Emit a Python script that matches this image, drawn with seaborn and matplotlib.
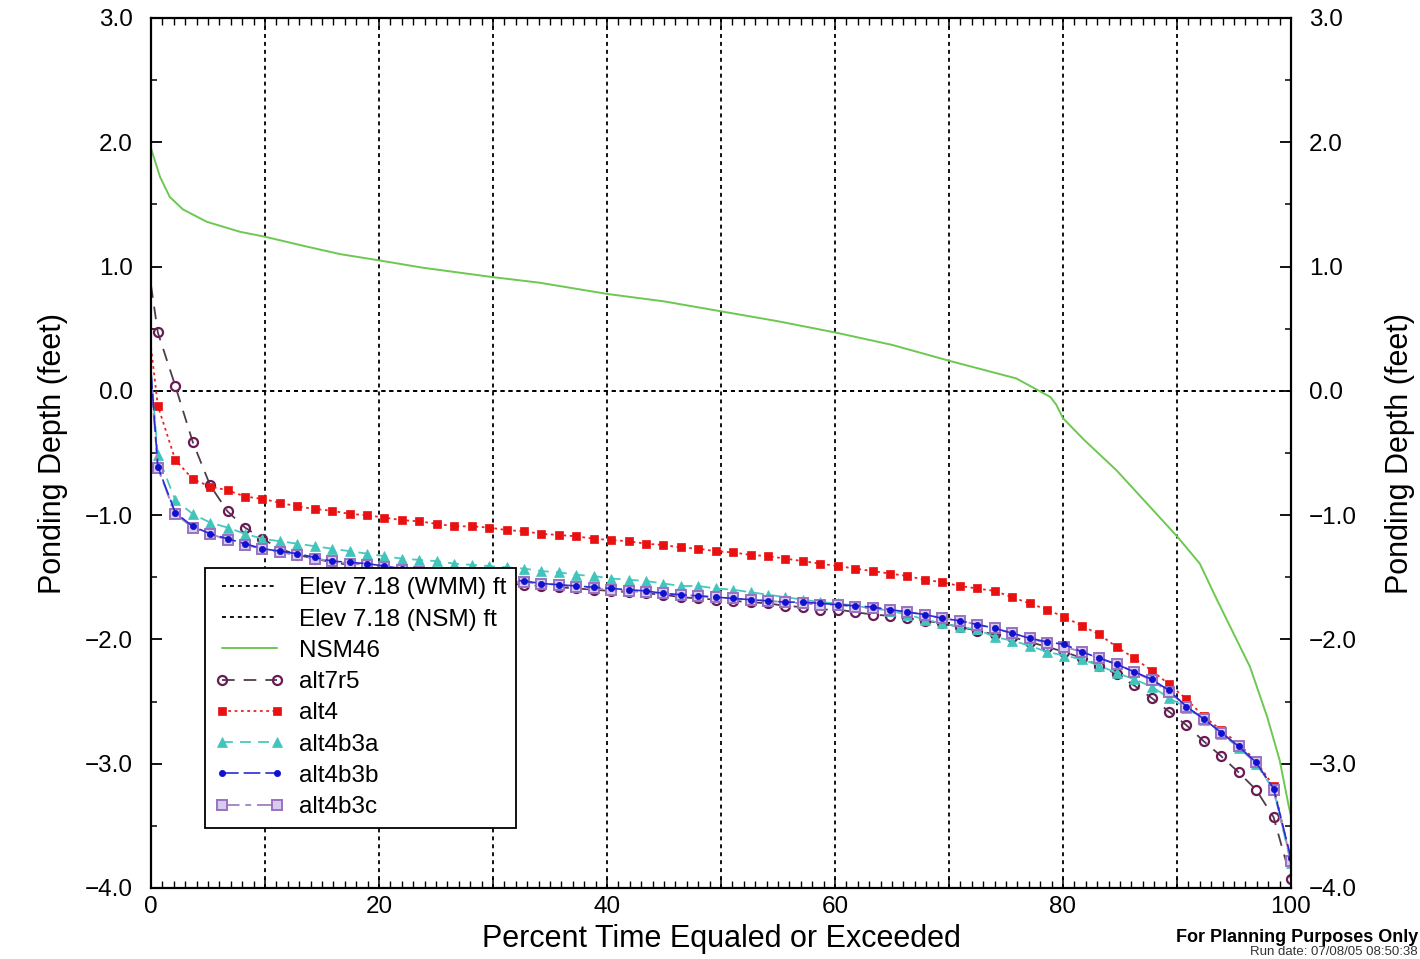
import numpy as np
import pandas as pd
import matplotlib
matplotlib.use("Agg")
import matplotlib.pyplot as plt
import seaborn as sns
from matplotlib.ticker import MultipleLocator, FuncFormatter
from matplotlib.lines import Line2D

# Percent-exceedance positions of the simulated stage samples (first entry is the 0 % end)
pct = np.concatenate([[0.0], np.linspace(0.6, 100.0, 66)])

alt7r5 = [0.85,
          0.47, 0.04, -0.41, -0.76, -0.97, -1.10, -1.19, -1.27, -1.32, -1.35,
          -1.38, -1.40, -1.42, -1.44, -1.46, -1.48, -1.50, -1.51, -1.53, -1.54,
          -1.55, -1.56, -1.57, -1.58, -1.59, -1.60, -1.61, -1.62, -1.63, -1.64,
          -1.66, -1.67, -1.68, -1.69, -1.70, -1.71, -1.73, -1.74, -1.76, -1.76,
          -1.78, -1.80, -1.81, -1.83, -1.85, -1.87, -1.90, -1.93, -1.96, -1.98,
          -2.02, -2.06, -2.10, -2.15, -2.21, -2.28, -2.37, -2.47, -2.58, -2.69,
          -2.82, -2.94, -3.07, -3.21, -3.43, -3.93]

alt4 = [0.35,
        -0.12, -0.555, -0.71, -0.77, -0.80, -0.85, -0.87, -0.90, -0.93, -0.95,
        -0.965, -0.99, -1.00, -1.02, -1.04, -1.05, -1.07, -1.09, -1.09, -1.10,
        -1.12, -1.13, -1.15, -1.16, -1.17, -1.19, -1.20, -1.21, -1.23, -1.24,
        -1.26, -1.27, -1.29, -1.30, -1.32, -1.33, -1.35, -1.37, -1.39, -1.41,
        -1.43, -1.45, -1.47, -1.49, -1.52, -1.54, -1.57, -1.59, -1.61, -1.66,
        -1.71, -1.76, -1.82, -1.89, -1.96, -2.06, -2.15, -2.25, -2.36, -2.48,
        -2.62, -2.73, -2.84, -2.98, -3.18, -3.78]

alt4b3a = [0.15,
           -0.52, -0.88, -0.99, -1.06, -1.10, -1.15, -1.19, -1.21, -1.23, -1.25,
           -1.27, -1.29, -1.31, -1.33, -1.35, -1.36, -1.37, -1.39, -1.40, -1.41,
           -1.42, -1.43, -1.45, -1.46, -1.48, -1.49, -1.51, -1.52, -1.53, -1.55,
           -1.57, -1.57, -1.59, -1.60, -1.62, -1.64, -1.66, -1.68, -1.70, -1.71,
           -1.73, -1.75, -1.77, -1.80, -1.84, -1.87, -1.90, -1.92, -1.98, -2.01,
           -2.05, -2.10, -2.13, -2.16, -2.21, -2.27, -2.32, -2.38, -2.47, -2.55,
           -2.65, -2.76, -2.87, -3.00, -3.21, -3.80]

alt4b3b = [0.15,
           -0.61, -0.98, -1.09, -1.15, -1.19, -1.23, -1.27, -1.29, -1.31, -1.34,
           -1.37, -1.38, -1.39, -1.41, -1.43, -1.45, -1.47, -1.48, -1.50, -1.51,
           -1.52, -1.53, -1.55, -1.56, -1.57, -1.58, -1.59, -1.60, -1.61, -1.63,
           -1.64, -1.65, -1.66, -1.67, -1.68, -1.69, -1.70, -1.70, -1.71, -1.72,
           -1.73, -1.74, -1.76, -1.78, -1.80, -1.83, -1.85, -1.88, -1.91, -1.95,
           -1.99, -2.02, -2.04, -2.10, -2.15, -2.20, -2.26, -2.32, -2.41, -2.54,
           -2.64, -2.75, -2.86, -2.99, -3.20, -3.76]

alt4b3c = [0.10,
           -0.62, -0.99, -1.10, -1.15, -1.20, -1.24, -1.27, -1.30, -1.32, -1.35,
           -1.37, -1.39, -1.40, -1.42, -1.44, -1.46, -1.47, -1.49, -1.50, -1.52,
           -1.53, -1.54, -1.55, -1.56, -1.58, -1.59, -1.60, -1.61, -1.62, -1.63,
           -1.64, -1.65, -1.66, -1.67, -1.68, -1.69, -1.70, -1.71, -1.72, -1.72,
           -1.74, -1.75, -1.76, -1.78, -1.80, -1.83, -1.85, -1.88, -1.91, -1.95,
           -1.99, -2.03, -2.06, -2.10, -2.15, -2.20, -2.26, -2.33, -2.42, -2.54,
           -2.64, -2.75, -2.86, -2.99, -3.21, -3.78]

# NSM46 stage-duration curve
nsm_pct = [0, 0.8, 1.65, 2.8, 4.9, 7.8, 10, 13.7, 16.6, 20, 23.9, 30, 34.1, 40,
           45, 50, 55, 60, 65, 70.1, 73, 75.9, 77.7, 78.9, 79.4, 80, 81.8, 84.7,
           87.6, 90, 92, 93.5, 96.4, 97.9, 99, 99.8, 100]
nsm46 = [1.95, 1.72, 1.56, 1.46, 1.36, 1.28, 1.24, 1.16, 1.10, 1.05, 0.99, 0.915,
         0.87, 0.78, 0.72, 0.64, 0.56, 0.47, 0.37, 0.24, 0.17, 0.10, 0.01, -0.05,
         -0.11, -0.22, -0.39, -0.64, -0.93, -1.17, -1.39, -1.68, -2.22, -2.62,
         -2.97, -3.34, -3.42]

# Ground elevation 7.18 ft reference (zero ponding depth) for both models
elev_pct = [0, 100]
elev_wmm = [0.0, 0.0]
elev_nsm = [0.0, 0.0]

x_ticks = [0, 20, 40, 60, 80, 100]

sns.set_style("white")
plt.rcParams["font.family"] = ["Liberation Sans", "DejaVu Sans"]
plt.rcParams["text.color"] = "black"
plt.rcParams["axes.labelcolor"] = "black"
plt.rcParams["xtick.color"] = "black"
plt.rcParams["ytick.color"] = "black"

fig = plt.figure(figsize=(14.2, 9.59), dpi=100)
ax = fig.add_axes([151 / 1420, 71 / 959, 1140 / 1420, 870 / 959])

dotted = (0, (2.2, 2.2))

styles = {
    "alt7r5": dict(color="#4f3b4c", ls=(0, (7, 5)), lw=1.3, marker="o", ms=6.5,
                   mfc="none", mec="#6a1b55", mew=1.6),
    "alt4": dict(color="#f02020", ls=(0, (1.5, 2.0)), lw=1.3, marker="s", ms=6,
                 mfc="#e81010", mec="#e81010", mew=0.5),
    "alt4b3a": dict(color="#48c8c0", ls=(0, (6, 4)), lw=1.3, marker="^", ms=7.5,
                    mfc="#40c4bc", mec="#40c4bc", mew=0.5),
    "alt4b3c": dict(color="#a58ac0", ls=(0, (9, 3, 3, 3)), lw=1.4, marker="s", ms=7,
                    mfc="#d8ccee", mec="#9a72c0", mew=1.4),
    "alt4b3b": dict(color="#2a2ad8", ls=(0, (10, 3)), lw=1.2, marker="o", ms=4.5,
                    mfc="#1010d0", mec="#1010d0", mew=0.5),
}
series = {"alt7r5": alt7r5, "alt4": alt4, "alt4b3a": alt4b3a,
          "alt4b3c": alt4b3c, "alt4b3b": alt4b3b}

# zero-depth reference lines
sns.lineplot(x=elev_pct, y=elev_wmm, ax=ax, color="black", lw=1.3, ls=dotted,
             estimator=None, sort=False)
sns.lineplot(x=elev_pct, y=elev_nsm, ax=ax, color="black", lw=1.3, ls=dotted,
             estimator=None, sort=False)

sns.lineplot(x=nsm_pct, y=nsm46, ax=ax, color="#6cc850", lw=1.4,
             estimator=None, sort=False)

marker_idx = list(range(1, len(pct)))
for name in ["alt7r5", "alt4", "alt4b3a", "alt4b3c", "alt4b3b"]:
    st = styles[name]
    sns.lineplot(x=pct, y=series[name], ax=ax, estimator=None, sort=False,
                 color=st["color"], linestyle=st["ls"], linewidth=st["lw"],
                 marker=st["marker"], markersize=st["ms"],
                 markerfacecolor=st["mfc"], markeredgecolor=st["mec"],
                 markeredgewidth=st["mew"], markevery=marker_idx)

ax.set_xlim(0, 100)
ax.set_ylim(-4, 3)

# axes, ticks and grid
for sp in ax.spines.values():
    sp.set_visible(True)
    sp.set_color("black")
    sp.set_linewidth(1.6)
    sp.set_zorder(5)

ax.xaxis.set_major_locator(MultipleLocator(10))
ax.xaxis.set_minor_locator(MultipleLocator(1))
ax.xaxis.set_major_formatter(FuncFormatter(
    lambda v, p: f"{int(round(v))}" if int(round(v)) in x_ticks else ""))
ax.yaxis.set_major_locator(MultipleLocator(1.0))
ax.yaxis.set_minor_locator(MultipleLocator(0.5))
ax.yaxis.set_major_formatter(FuncFormatter(
    lambda v, p: f"{v:.1f}".replace("-", "\u2212")))

ax.tick_params(axis="x", which="both", direction="in", top=True, bottom=True,
               labelsize=17.5, pad=6, color="black", labelcolor="black")
ax.tick_params(axis="x", which="major", length=7, width=1.1)
ax.tick_params(axis="x", which="minor", length=5, width=1.0)
ax.tick_params(axis="y", which="both", direction="in", left=True, right=True,
               labelleft=True, labelright=True, labelsize=17.5, pad=13,
               color="black", labelcolor="black")
ax.tick_params(axis="y", which="major", length=8, width=1.3)
ax.tick_params(axis="y", which="minor", length=4, width=1.1)

ax.grid(False)
ax.xaxis.grid(True, which="major", color="black", linestyle=dotted, linewidth=1.3)

ax.set_xlabel("Percent Time Equaled or Exceeded", fontsize=22, labelpad=4)
ax.set_ylabel("Ponding Depth (feet)", fontsize=22, labelpad=12)
ax2 = ax.secondary_yaxis("right")
ax2.set_yticks([])
ax2.spines["right"].set_visible(False)
ax2.set_ylabel("Ponding Depth (feet)", fontsize=22, labelpad=68)

# legend
handles = [
    Line2D([], [], color="black", lw=1.3, ls=dotted),
    Line2D([], [], color="black", lw=1.3, ls=dotted),
    Line2D([], [], color="#6cc850", lw=1.4),
]
for name in ["alt7r5", "alt4", "alt4b3a", "alt4b3b", "alt4b3c"]:
    st = styles[name]
    handles.append(Line2D([], [], color=st["color"], ls=st["ls"], lw=st["lw"],
                          marker=st["marker"], ms=st["ms"], mfc=st["mfc"],
                          mec=st["mec"], mew=st["mew"]))
labels = ["Elev 7.18 (WMM) ft", "Elev 7.18 (NSM) ft", "NSM46", "alt7r5", "alt4",
          "alt4b3a", "alt4b3b", "alt4b3c"]
leg = ax.legend(handles, labels, loc="lower left", borderaxespad=0,
                bbox_to_anchor=(0.047, 0.069), fontsize=17.5, numpoints=2,
                handlelength=2.9, handletextpad=0.6, labelspacing=0.38,
                borderpad=0.4, fancybox=False, framealpha=1, edgecolor="black")
leg.get_frame().set_linewidth(1.3)

fig.text(1418 / 1420, 1 - 938 / 959, "For Planning Purposes Only",
         ha="right", va="center", fontsize=13, fontweight="bold")
fig.text(1418 / 1420, 1 - 958 / 959, "Run date: 07/08/05 08:50:38",
         ha="right", va="bottom", fontsize=9.5, color="#333333")

fig.savefig("out.png", dpi=100)
